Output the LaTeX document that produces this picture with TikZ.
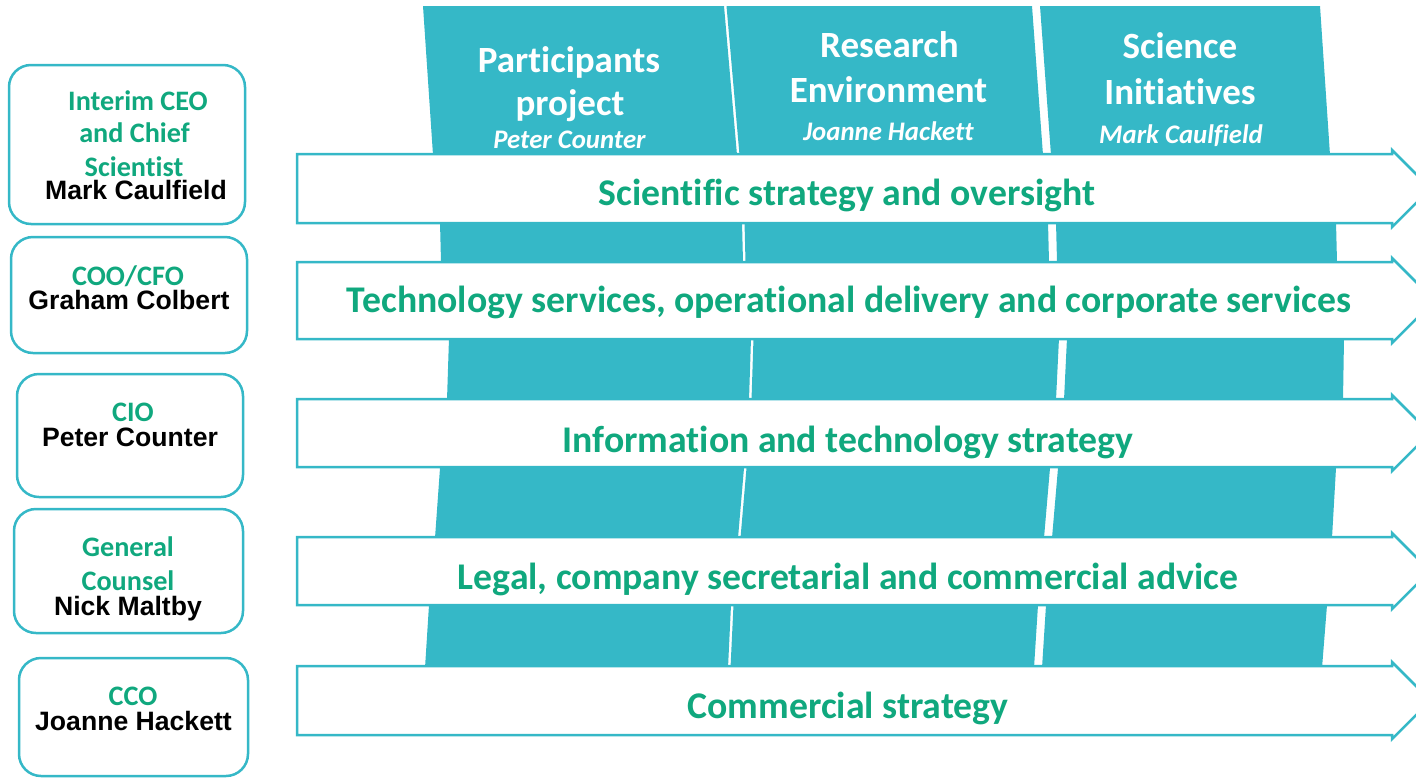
\documentclass[tikz,border=0pt]{standalone}
\usepackage{fontspec}
\setmainfont[Ligatures=CommonOff]{Carlito}
\newfontfamily\arialf{Liberation Sans}
\definecolor{teal1}{RGB}{53,184,199}
\definecolor{green1}{RGB}{16,168,126}
\tikzset{
  colfill/.style={fill=teal1, draw=none},
  arrowbody/.style={draw=teal1, line width=2.5pt, fill=white, line join=miter},
  orgbox/.style={draw=teal1, line width=2.5pt, rounded corners=22pt, fill=white, inner sep=0pt},
  hdr/.style={anchor=base, inner sep=0pt, text=white, font=\bfseries\fontsize{37}{40}\selectfont},
  hdrname/.style={anchor=base, inner sep=0pt, text=white, font=\bfseries\itshape\fontsize{26.8}{29}\selectfont},
  arrowtxt/.style={anchor=base, inner sep=0pt, text=green1, font=\bfseries\fontsize{37.7}{40}\selectfont},
  role/.style={anchor=base, inner sep=0pt, text=green1, font=\bfseries\fontsize{28.2}{30}\selectfont},
  person/.style={anchor=base, inner sep=0pt, text=black, font=\arialf\bfseries\fontsize{26.6}{29}\selectfont},
}
\begin{document}
\begin{tikzpicture}[x=1pt,y=-1pt]
\useasboundingbox (0,0) rectangle (1416,777);
\clip (0,0) rectangle (1416,777);
% columns
\fill[colfill] (423,6)--(433,155)--(440,222)--(441,262)--(449,338)--(447,400)--(440,468)--(435,538)--(429,605)--(425,668)--(728,668)--(731,605)--(738,538)--(744,468)--(749,400)--(751,338)--(743,262)--(742,222)--(737,155)--(724,6)--cycle;
\fill[colfill] (726.5,6)--(739.5,155)--(744.5,222)--(745.5,262)--(753.5,338)--(751.5,400)--(746.5,468)--(740.5,538)--(733.5,605)--(730.5,668)--(1034,668)--(1038,605)--(1044,538)--(1050,468)--(1056,400)--(1059,338)--(1049,262)--(1048,222)--(1043,155)--(1032,6)--cycle;
\fill[colfill] (1040,6)--(1051,155)--(1056,222)--(1057,262)--(1067,338)--(1064,400)--(1058,468)--(1052,538)--(1046,605)--(1042,668)--(1322,668)--(1327,605)--(1332,538)--(1336,468)--(1343,400)--(1344,338)--(1337,262)--(1336,222)--(1330,155)--(1320,6)--cycle;
% header texts
\node[hdr] (h1a) at (569,72) {Participants};
\node[hdr] (h1b) at (570,115) {project};
\node[hdrname] (h1c) at (569.5,148) {Peter Counter};
\node[hdr] (h2a) at (889.5,57) {Research};
\node[hdr] (h2b) at (888.5,102) {Environment};
\node[hdrname] (h2c) at (888.5,140) {Joanne Hackett};
\node[hdr] (h3a) at (1180,58) {Science};
\node[hdr] (h3b) at (1180,104) {Initiatives};
\node[hdrname] (h3c) at (1181,143) {Mark Caulfield};
% arrows
\foreach \t/\b in {154/223, 262/339, 399/467, 537/605, 666/735}{
  \pgfmathsetmacro\c{(\t+\b)/2}
  \pgfmathsetmacro\tip{1392+(\c-\t+4)}
  \draw[arrowbody] (297,\t)--(1392,\t)--(1392,\t-4)--(\tip,\c)--(1392,\b+4)--(1392,\b)--(297,\b)--cycle;
}
\node[arrowtxt] (a1) at (847,205) {Scientific strategy and oversight};
\node[arrowtxt] (a2) at (849,312) {Technology services, operational delivery and corporate services};
\node[arrowtxt] (a3) at (848,452) {Information and technology strategy};
\node[arrowtxt] (a4) at (848,589) {Legal, company secretarial and commercial advice};
\node[arrowtxt] (a5) at (848,718) {Commercial strategy};
% left boxes
\node[orgbox, minimum width=236pt, minimum height=159pt] (b1) at (127,144.5) {};
\node[orgbox, minimum width=236pt, minimum height=116pt] (b2) at (129,295) {};
\node[orgbox, minimum width=226pt, minimum height=123pt] (b3) at (130,435.5) {};
\node[orgbox, minimum width=229pt, minimum height=124pt] (b4) at (128.5,571) {};
\node[orgbox, minimum width=229pt, minimum height=118pt] (b5) at (133.5,717) {};
\node[role] (r1a) at (138,110) {Interim CEO};
\node[role] (r1b) at (134.5,142) {and Chief};
\node[role] (r1c) at (134,176) {Scientist};
\node[person] (p1) at (136,199) {Mark Caulfield};
\node[role] (r2) at (128,285) {COO/CFO};
\node[person] (p2) at (129,309) {Graham Colbert};
\node[role] (r3) at (133,421.5) {CIO};
\node[person] (p3) at (130,446.5) {Peter Counter};
\node[role] (r4a) at (128,556.5) {General};
\node[role] (r4b) at (128,590.5) {Counsel};
\node[person] (p4) at (128,615) {Nick Maltby};
\node[role] (r5) at (133,705) {CCO};
\node[person] (p5) at (133.5,730.5) {Joanne Hackett};
\end{tikzpicture}
\end{document}
